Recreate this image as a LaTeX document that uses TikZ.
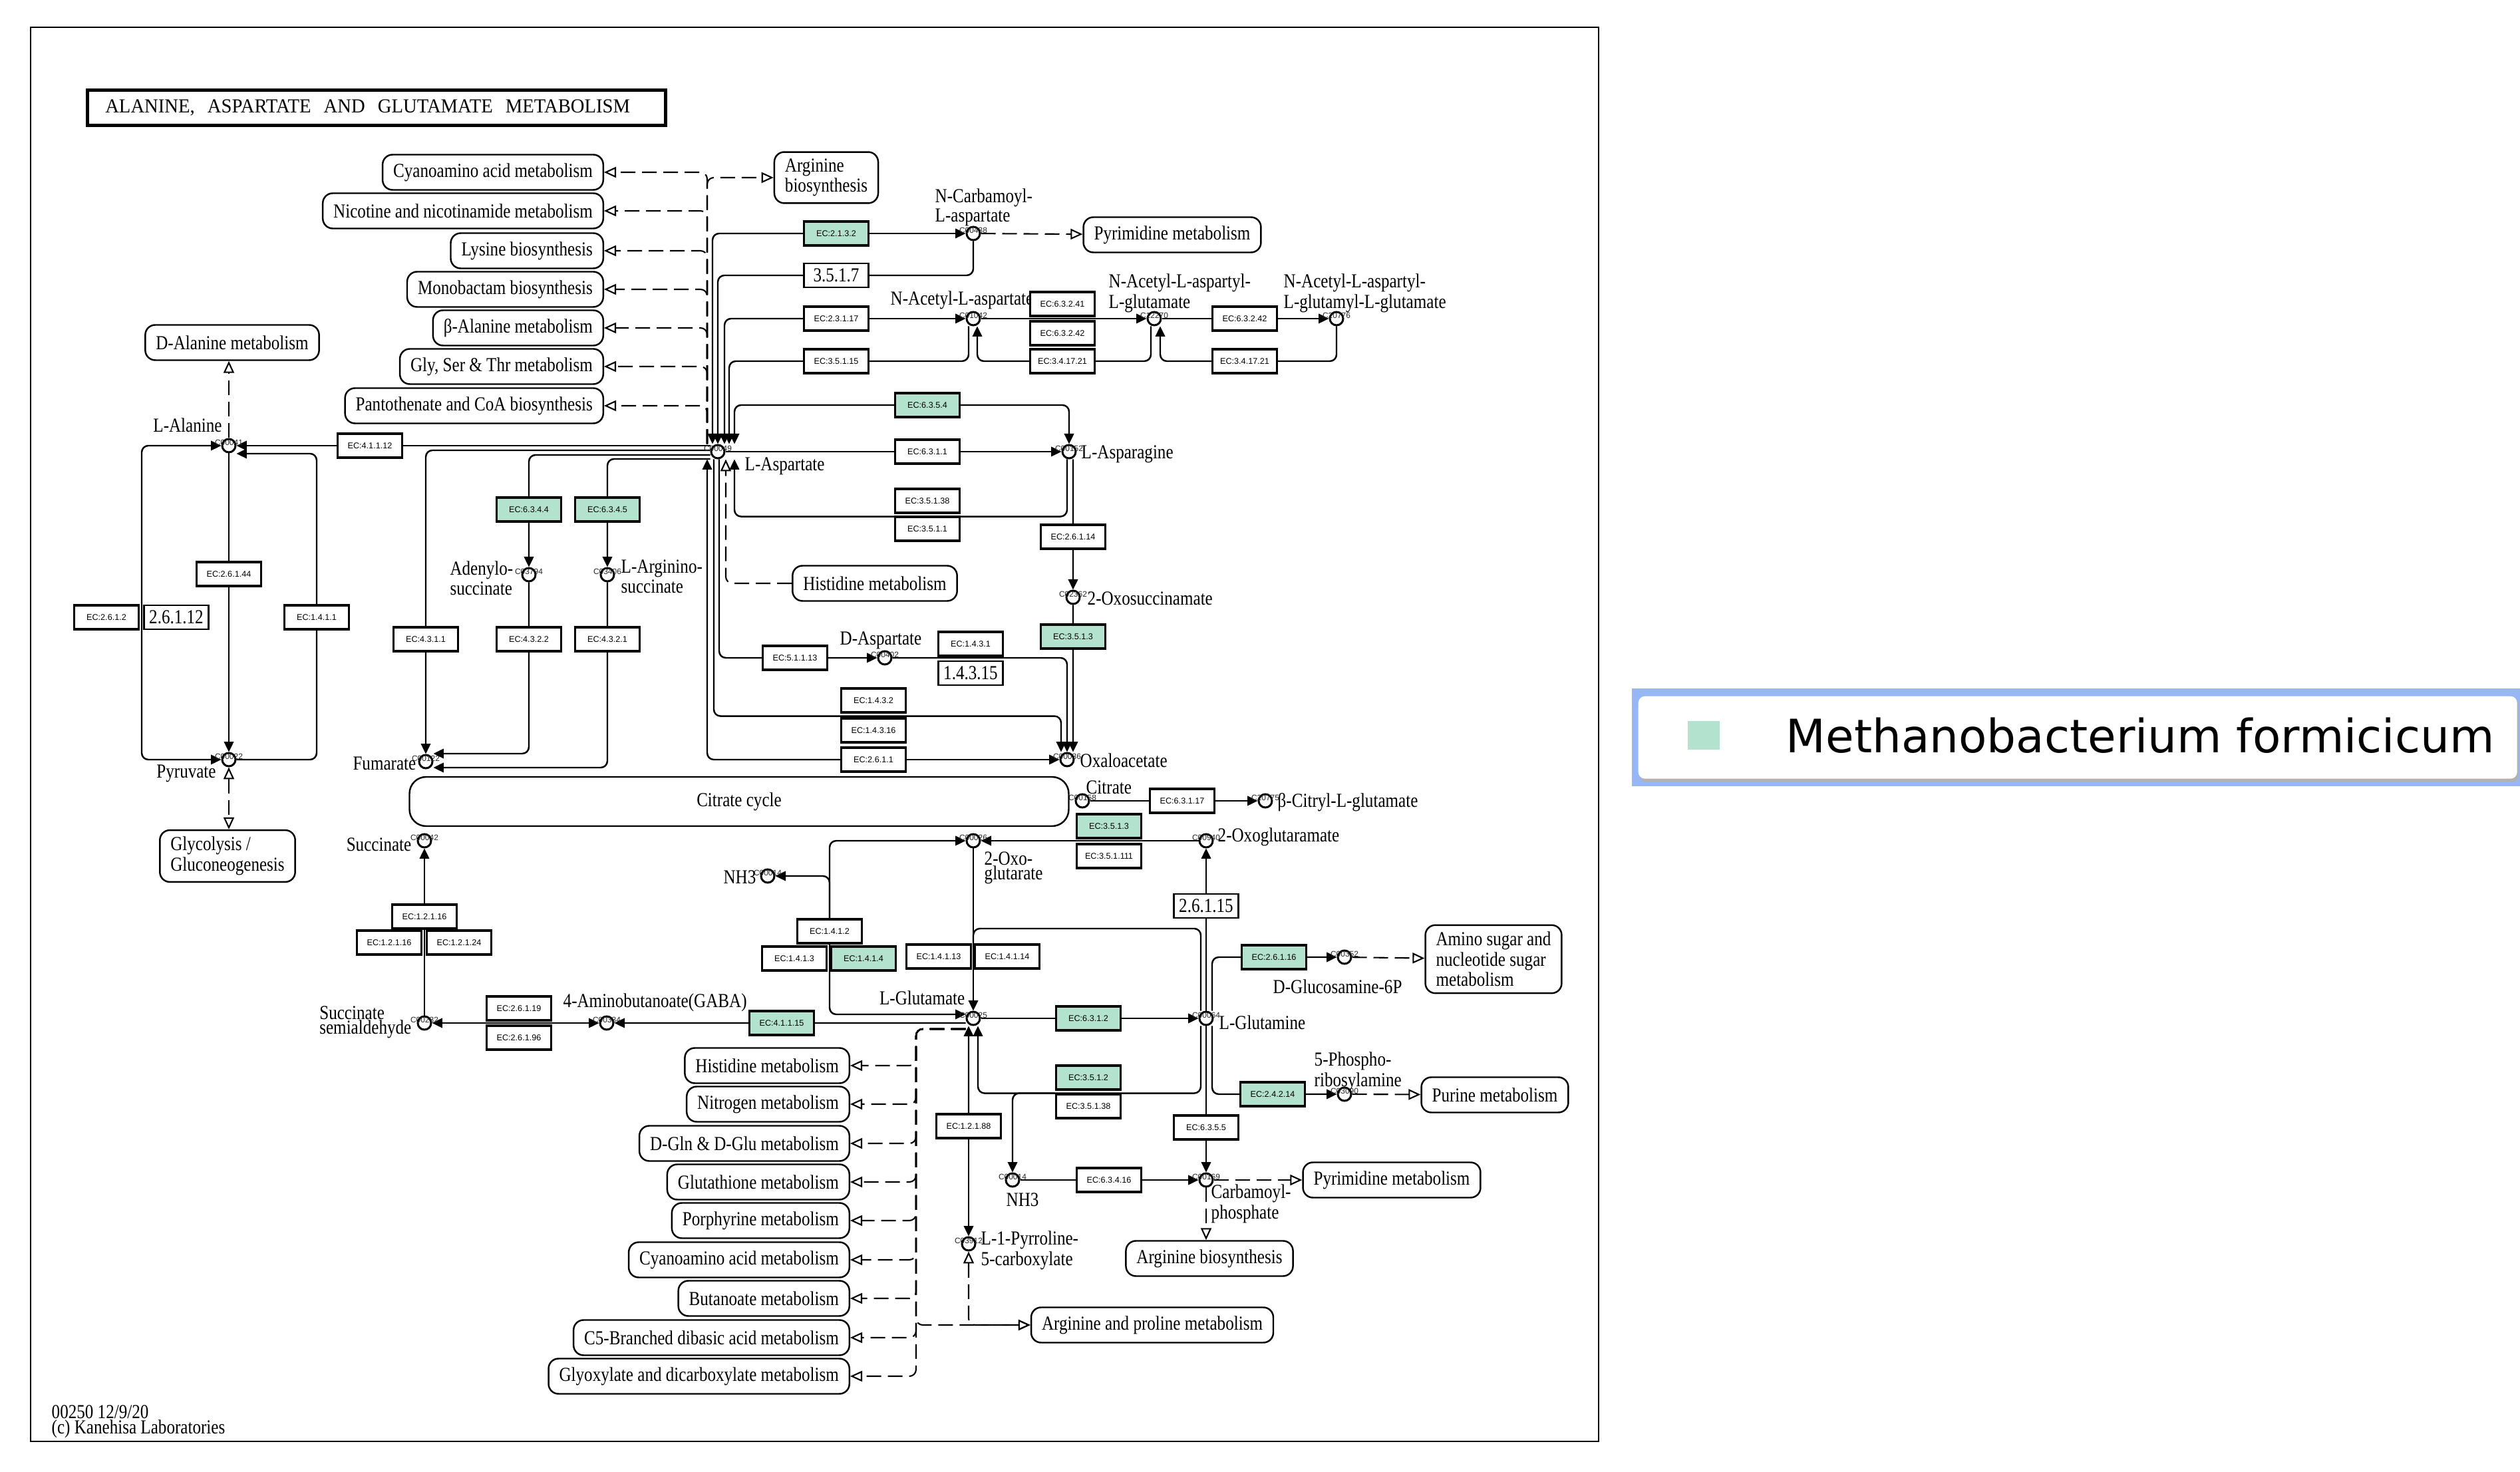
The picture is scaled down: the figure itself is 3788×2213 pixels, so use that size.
\documentclass[tikz,border=0pt]{standalone}
\usepackage{fontspec}
\setmainfont{Liberation Serif}
\newfontfamily\keggfont{Liberation Serif}[FakeStretch=0.84]
\newfontfamily\titlefont{Liberation Serif}[FakeStretch=0.96]
\newfontfamily\ecfont{Liberation Sans}
\newfontfamily\legendfont{DejaVu Sans}
\usetikzlibrary{arrows.meta}
\definecolor{mfgreen}{RGB}{179,227,206}
\definecolor{legblue}{RGB}{150,182,245}
\newcommand\kegg{\keggfont\fontsize{8.5}{6.4}\selectfont}
\newcommand\ecsize{\ecfont\fontsize{3.6}{4}\selectfont}
\pgfdeclarelayer{bg}
\pgfsetlayers{bg,main}
\begin{document}
\begin{tikzpicture}
[x=0.1mm,y=-0.1mm,
 ec/.style={draw,line width=0.9pt,fill=white,minimum width=9.7mm,minimum height=3.6mm,inner sep=0pt,font=\ecsize},
 ecg/.style={ec,fill=mfgreen},
 ecn/.style={draw,line width=0.6pt,fill=white,minimum width=9.7mm,minimum height=3.6mm,inner sep=0pt,font=\kegg},
 cid/.style={font=\ecfont\fontsize{3.4}{4}\selectfont,inner sep=0pt,text=black!85},
 cpd/.style={circle,draw,line width=0.85pt,fill=white,minimum size=2mm,inner sep=0pt,label={[cid,yshift=0.5mm]center:#1}},
 lbl/.style={font=\kegg,inner sep=0pt,align=left},
 mapbox/.style={draw,line width=0.7pt,rounded corners=1.5mm,fill=white,minimum height=5.3mm,inner xsep=1.6mm,inner ysep=0.5mm,font=\kegg,align=left},
 rx/.style={line width=0.7pt,rounded corners=1mm},
 fwd/.style={-{Triangle[length=1.55mm,width=1.45mm]}},
 bwd/.style={{Triangle[length=1.55mm,width=1.45mm]}-},
 bid/.style={{Triangle[length=1.55mm,width=1.45mm]}-{Triangle[length=1.55mm,width=1.45mm]}},
 maplink/.style={line width=0.6pt,dash pattern=on 2.2mm off 1mm,rounded corners=1mm,-{Triangle[open,length=1.8mm,width=1.6mm]}},
 maplink2/.style={maplink,{Triangle[open,length=1.8mm,width=1.6mm]}-{Triangle[open,length=1.8mm,width=1.6mm]}}]
\begin{pgfonlayer}{bg}
\fill[white] (0,0) rectangle (3788,2213);
\end{pgfonlayer}
\useasboundingbox (0,0) rectangle (3788,2213);
\draw[line width=0.6pt] (46,41) rectangle (2403,2167);
\node[draw,line width=1.3pt,anchor=west,text width=81.5mm,inner xsep=2.7mm,minimum height=5.3mm,align=left,font=\titlefont\fontsize{8.5}{10}\selectfont] (title) at (129,162) {ALANINE,\hspace{1.9mm}ASPARTATE\hspace{1.9mm}AND\hspace{1.9mm}GLUTAMATE\hspace{1.9mm}METABOLISM};

\node[cpd=C00041] (ala) at (344,670) {};
\node[cpd=C00022] (pyr) at (344,1142) {};
\node[cpd=C00049] (asp) at (1079,679) {};
\node[cpd=C00438] (ncasp) at (1463,351) {};
\node[cpd=C01042] (naa) at (1463,479) {};
\node[cpd=C12270] (naag) at (1735,479) {};
\node[cpd=C20776] (naag2) at (2009,479) {};
\node[cpd=C00152] (asn) at (1607,679) {};
\node[cpd=C03794] (adsucc) at (795,864) {};
\node[cpd=C03406] (argsucc) at (913,864) {};
\node[cpd=C00122] (fum) at (640,1145) {};
\node[cpd=C00042] (succ) at (638,1264) {};
\node[cpd=C00232] (ssa) at (638,1538) {};
\node[cpd=C00334] (gaba) at (912,1538) {};
\node[cpd=C00402] (dasp) at (1330,989) {};
\node[cpd=C02362] (oxsucc) at (1613,898) {};
\node[cpd=C00036] (oaa) at (1604,1142) {};
\node[cpd=C00158] (cit) at (1627,1204) {};
\node[cpd=C20775] (citglu) at (1902,1204) {};
\node[cpd=C00940] (oxglm) at (1813,1264) {};
\node[cpd=C00026] (akg) at (1463,1264) {};
\node[cpd=C00014] (nh3a) at (1154,1317) {};
\node[cpd=C00025] (glu) at (1463,1531) {};
\node[cpd=C00064] (gln) at (1813,1531) {};
\node[cpd=C00352] (glcn6p) at (2021,1439) {};
\node[cpd=C03090] (pra) at (2021,1645) {};
\node[cpd=C00014] (nh3b) at (1522,1774) {};
\node[cpd=C00169] (cbp) at (1813,1774) {};
\node[cpd=C03912] (p5c) at (1456,1870) {};

\node[lbl] (alal) at (282,639) {L-Alanine};
\node[lbl] (pyrl) at (280,1163) {Pyruvate};
\node[lbl,anchor=west] (aspl) at (1119,701) {L-Aspartate};
\node[lbl,anchor=west] (ncaspl) at (1405,312) {N-Carbamoyl-\\L-aspartate};
\node[lbl,anchor=west] (naal) at (1338,451) {N-Acetyl-L-aspartate};
\node[lbl,anchor=west] (naagl) at (1666,441) {N-Acetyl-L-aspartyl-\\L-glutamate};
\node[lbl,anchor=west] (naag2l) at (1929,441) {N-Acetyl-L-aspartyl-\\L-glutamyl-L-glutamate};
\node[lbl,anchor=west] (asnl) at (1625,683) {L-Asparagine};
\node[lbl,anchor=east] (adsuccl) at (772,869) {Adenylo-\\succinate};
\node[lbl,anchor=west] (argsuccl) at (933,867) {L-Arginino-\\succinate};
\node[lbl,anchor=east] (fuml) at (626,1148) {Fumarate};
\node[lbl,anchor=east] (succl) at (619,1270) {Succinate};
\node[lbl,anchor=east] (ssal) at (619,1537) {Succinate\\semialdehyde};
\node[lbl,anchor=west] (gabal) at (846,1507) {4-Aminobutanoate(GABA)};
\node[lbl,anchor=west] (daspl) at (1262,963) {D-Aspartate};
\node[lbl,anchor=west] (oxsuccl) at (1634,900) {2-Oxosuccinamate};
\node[lbl,anchor=west] (oaal) at (1623,1143) {Oxaloacetate};
\node[lbl,anchor=west] (citl) at (1632,1184) {Citrate};
\node[lbl,anchor=west] (citglul) at (1920,1206) {β-Citryl-L-glutamate};
\node[lbl,anchor=west] (oxglml) at (1830,1258) {2-Oxoglutaramate};
\node[lbl,anchor=west] (akgl) at (1479,1305) {2-Oxo-\\glutarate};
\node[lbl,anchor=east] (nh3al) at (1137,1319) {NH3};
\node[lbl,anchor=east] (glul) at (1451,1500) {L-Glutamate};
\node[lbl,anchor=west] (glnl) at (1832,1537) {L-Glutamine};
\node[lbl,anchor=west] (glcn6pl) at (1913,1483) {D-Glucosamine-6P};
\node[lbl,anchor=west] (pral) at (1975,1611) {5-Phospho-\\ribosylamine};
\node[lbl,anchor=west] (nh3bl) at (1512,1804) {NH3};
\node[lbl,anchor=west] (cbpl) at (1820,1810) {Carbamoyl-\\phosphate};
\node[lbl,anchor=west] (p5cl) at (1474,1880) {L-1-Pyrroline-\\5-carboxylate};
\node[lbl,anchor=west] (credit) at (77,2137) {00250 12/9/20\\(c) Kanehisa Laboratories};

\node[mapbox,anchor=east] (cyano1) at (908,259) {Cyanoamino acid metabolism};
\node[mapbox,anchor=east] (nicot) at (908,317) {Nicotine and nicotinamide metabolism};
\node[mapbox,anchor=east] (lysbio) at (908,377) {Lysine biosynthesis};
\node[mapbox,anchor=east] (monob) at (908,435) {Monobactam biosynthesis};
\node[mapbox,anchor=east] (balan) at (908,493) {β-Alanine metabolism};
\node[mapbox,anchor=east] (glyser) at (908,551) {Gly, Ser \& Thr metabolism};
\node[mapbox,anchor=east] (panto) at (908,610) {Pantothenate and CoA biosynthesis};
\node[mapbox,inner ysep=1mm] (argbio1) at (1242,267) {Arginine\\biosynthesis};
\node[mapbox] (pyrim1) at (1762,353) {Pyrimidine metabolism};
\node[mapbox] (dala) at (349,515) {D-Alanine metabolism};
\node[mapbox,inner ysep=1mm] (glyco) at (342,1287) {Glycolysis /\\Gluconeogenesis};
\node[mapbox] (histid1) at (1315,877) {Histidine metabolism};
\node[mapbox,rounded corners=2.5mm,minimum width=99.1mm,minimum height=7.4mm] (citcyc) at (1111,1205) {Citrate cycle};
\node[mapbox,inner ysep=1mm] (aminosugar) at (2245,1442) {Amino sugar and\\nucleotide sugar\\metabolism};
\node[mapbox] (purine) at (2247,1646) {Purine metabolism};
\node[mapbox] (pyrim2) at (2092,1774) {Pyrimidine metabolism};
\node[mapbox] (argbio2) at (1818,1892) {Arginine biosynthesis};
\node[mapbox] (argpro) at (1732,1992) {Arginine and proline metabolism};
\node[mapbox,anchor=east] (histid2) at (1278,1602) {Histidine metabolism};
\node[mapbox,anchor=east] (nitro) at (1278,1660) {Nitrogen metabolism};
\node[mapbox,anchor=east] (dgln) at (1278,1719) {D-Gln \& D-Glu metabolism};
\node[mapbox,anchor=east] (gluta) at (1278,1777) {Glutathione metabolism};
\node[mapbox,anchor=east] (porph) at (1278,1835) {Porphyrine metabolism};
\node[mapbox,anchor=east] (cyano2) at (1278,1894) {Cyanoamino acid metabolism};
\node[mapbox,anchor=east] (butan) at (1278,1952) {Butanoate metabolism};
\node[mapbox,anchor=east] (c5br) at (1278,2011) {C5-Branched dibasic acid metabolism};
\node[mapbox,anchor=east] (glyox) at (1278,2069) {Glyoxylate and dicarboxylate metabolism};

\node[ec] (ec41112) at (556,670) {EC:4.1.1.12};
\node[ec] (ec26144) at (344,863) {EC:2.6.1.44};
\node[ec] (ec2612) at (160,928) {EC:2.6.1.2};
\node[ecn] (n26112) at (265,928) {2.6.1.12};
\node[ec] (ec1411) at (476,928) {EC:1.4.1.1};
\node[ecg] (ec6344) at (795,766) {EC:6.3.4.4};
\node[ecg] (ec6345) at (913,766) {EC:6.3.4.5};
\node[ec] (ec4311) at (640,961) {EC:4.3.1.1};
\node[ec] (ec4322) at (795,961) {EC:4.3.2.2};
\node[ec] (ec4321) at (913,961) {EC:4.3.2.1};
\node[ec] (ec12116a) at (638,1378) {EC:1.2.1.16};
\node[ec] (ec12116b) at (585,1417) {EC:1.2.1.16};
\node[ec] (ec12124) at (690,1417) {EC:1.2.1.24};
\node[ec] (ec26119) at (780,1516) {EC:2.6.1.19};
\node[ec] (ec26196) at (780,1560) {EC:2.6.1.96};
\node[ecg] (ec41115) at (1175,1538) {EC:4.1.1.15};
\node[ecg] (ec2132) at (1257,351) {EC:2.1.3.2};
\node[ecn] (n3517) at (1257,414) {3.5.1.7};
\node[ec] (ec23117) at (1257,479) {EC:2.3.1.17};
\node[ec] (ec35115) at (1257,543) {EC:3.5.1.15};
\node[ec] (ec63241) at (1597,457) {EC:6.3.2.41};
\node[ec] (ec63242a) at (1597,501) {EC:6.3.2.42};
\node[ec] (ec341721a) at (1597,543) {EC:3.4.17.21};
\node[ec] (ec63242b) at (1871,479) {EC:6.3.2.42};
\node[ec] (ec341721b) at (1871,543) {EC:3.4.17.21};
\node[ecg] (ec6354) at (1394,609) {EC:6.3.5.4};
\node[ec] (ec6311) at (1394,679) {EC:6.3.1.1};
\node[ec] (ec35138a) at (1394,753) {EC:3.5.1.38};
\node[ec] (ec3511) at (1394,795) {EC:3.5.1.1};
\node[ec] (ec26114) at (1613,807) {EC:2.6.1.14};
\node[ecg] (ec3513a) at (1613,957) {EC:3.5.1.3};
\node[ec] (ec51113) at (1195,989) {EC:5.1.1.13};
\node[ec] (ec1431) at (1459,968) {EC:1.4.3.1};
\node[ecn] (n14315) at (1459,1012) {1.4.3.15};
\node[ec] (ec1432) at (1313,1053) {EC:1.4.3.2};
\node[ec] (ec14316) at (1313,1098) {EC:1.4.3.16};
\node[ec] (ec2611) at (1313,1142) {EC:2.6.1.1};
\node[ec] (ec63117) at (1777,1204) {EC:6.3.1.17};
\node[ecg] (ec3513b) at (1667,1242) {EC:3.5.1.3};
\node[ec] (ec351111) at (1667,1287) {EC:3.5.1.111};
\node[ecn] (n26115) at (1813,1362) {2.6.1.15};
\node[ec] (ec1412) at (1247,1400) {EC:1.4.1.2};
\node[ec] (ec1413) at (1194,1441) {EC:1.4.1.3};
\node[ecg] (ec1414) at (1298,1441) {EC:1.4.1.4};
\node[ec] (ec14113) at (1411,1438) {EC:1.4.1.13};
\node[ec] (ec14114) at (1514,1438) {EC:1.4.1.14};
\node[ecg] (ec26116) at (1915,1439) {EC:2.6.1.16};
\node[ecg] (ec6312) at (1636,1531) {EC:6.3.1.2};
\node[ecg] (ec3512) at (1636,1620) {EC:3.5.1.2};
\node[ec] (ec35138b) at (1636,1663) {EC:3.5.1.38};
\node[ecg] (ec24214) at (1913,1645) {EC:2.4.2.14};
\node[ec] (ec6355) at (1813,1695) {EC:6.3.5.5};
\node[ec] (ec63416) at (1667,1774) {EC:6.3.4.16};
\node[ec] (ec12188) at (1456,1693) {EC:1.2.1.88};

\node[fill=legblue,minimum width=133.6mm,minimum height=14.7mm,anchor=north west,inner sep=0pt] (legend) at (2452,1034) {};
\fill[black!30,rounded corners=1mm] (2465,1051) rectangle (3786,1176);
\node[fill=white,rounded corners=1mm,minimum width=132.1mm,minimum height=12.4mm,anchor=north west,inner sep=0pt] (legbox) at (2462,1046) {};
\node[fill=mfgreen,minimum width=4.8mm,minimum height=4.3mm,inner sep=0pt] (legsq) at (2561,1106) {};
\node[anchor=west,inner sep=0pt,font=\legendfont\fontsize{19.7}{24}\selectfont] (legtext) at (2684,1106) {Methanobacterium formicicum};

\begin{pgfonlayer}{bg}
\draw[rx,fwd] (asp.west |- ala) -- (ec41112) -- (ala);
\draw[rx,bid] (ala) -| (213,906) |- (pyr);
\draw[rx,fwd] (ala) -- (ec26144) -- (pyr);
\draw[rx,fwd] (pyr) -| (ec1411) |- ([yshift=-1.2mm]ala.east);
\draw[maplink] (ala) -- (ala |- dala.south);
\draw[maplink2] (pyr) -- (pyr |- glyco.north);
\draw[rx,fwd] ([yshift=0.2mm]asp.west) -| (ec4311) -- (fum);
\draw[rx,fwd] ([yshift=-0.5mm]asp.west) -| (ec6344) -- (adsucc);
\draw[rx,fwd] ([yshift=-1.1mm]asp.west) -| (ec6345) -- (argsucc);
\draw[rx,fwd] (adsucc) -- (ec4322) |- ([yshift=1.2mm]fum.east);
\draw[rx,fwd] (argsucc) -- (ec4321) |- ([yshift=-0.9mm]fum.east);
\draw[rx,fwd] (ssa) -- (ec12116a) -- (succ);
\draw[rx,bid] (gaba) -- (ssa);
\draw[rx,fwd] ([yshift=-0.7mm]glu.west) -- (ec41115) -- (gaba);

\draw[maplink] ([xshift=-1.6mm]asp.north) |- (argbio1);
\draw[maplink] ([xshift=-1.6mm]asp.north) |- (cyano1);
\draw[maplink] ([xshift=-1.6mm]asp.north) |- (nicot);
\draw[maplink] ([xshift=-1.6mm]asp.north) |- (lysbio);
\draw[maplink] ([xshift=-1.6mm]asp.north) |- (monob);
\draw[maplink] ([xshift=-1.6mm]asp.north) |- (balan);
\draw[maplink] ([xshift=-1.6mm]asp.north) |- (glyser);
\draw[maplink] ([xshift=-1.6mm]asp.north) |- (panto);
\draw[maplink] (histid1) -| ([xshift=1.2mm]asp.south);

\draw[rx,bwd] ([xshift=-0.8mm]asp.north) |- (ec2132);
\draw[rx,fwd] (ec2132) -- (ncasp);
\draw[rx,fwd] (ncasp) |- (n3517) -| (asp.north);
\draw[rx,bwd] ([xshift=1mm]asp.north) |- (ec23117);
\draw[rx,fwd] (ec23117) -- (naa);
\draw[rx,fwd] ([xshift=-0.7mm]naa.south) |- (ec35115) -| ([xshift=1.7mm]asp.north);
\draw[rx,bwd] ([xshift=2.5mm]asp.north) |- (ec6354);
\draw[rx,fwd] (ec6354) -| (asn);
\draw[rx,fwd] (asp) -- (ec6311) -- (asn);
\draw[rx,fwd] ([xshift=-0.3mm]asn.south) |- ([yshift=-0.4mm]ec35138a.south) -| ([xshift=2.5mm]asp.south);
\draw[maplink] (ncasp) -- (pyrim1);
\draw[rx,fwd] (naa) -- (naag);
\draw[rx,fwd] ([xshift=-0.5mm]naag.south) |- (ec341721a) -| ([xshift=0.6mm]naa.south);
\draw[rx,fwd] (naag) -- (ec63242b) -- (naag2);
\draw[rx,fwd] (naag2) |- (ec341721b) -| ([xshift=0.9mm]naag.south);

\draw[rx,bwd] ([xshift=-1.6mm]asp.south) |- (ec2611);
\draw[rx,fwd] (ec2611) -- (oaa);
\draw[rx,fwd] ([xshift=-0.6mm]asp.south) |- ([yshift=-0.4mm]ec1432.south) -| ([xshift=-0.9mm]oaa.north);
\draw[rx,fwd] ([xshift=0.2mm]asp.south) |- (ec51113) -- (dasp);
\draw[rx,fwd] (dasp) -| (oaa);
\draw[rx,fwd] ([xshift=0.6mm]asn.south) -- (ec26114) -- (oxsucc);
\draw[rx,fwd] (oxsucc) -- (ec3513a) -- ([xshift=0.9mm]oaa.north);

\draw[rx,fwd] (cit) -- (ec63117) -- (citglu);
\draw[rx,fwd] (oxglm) -- (akg);
\draw[rx,fwd] (gln) -- (n26115) -- (oxglm);
\draw[rx,bwd] ([yshift=0.6mm]glu.west) -| (ec1412);
\draw[rx,fwd] (ec1412) |- (akg);
\draw[rx,fwd] (ec1412.north) |- (nh3a);
\draw[rx,fwd] (akg) -- (glu);
\draw[rx] ([xshift=-0.8mm]gln.north) |- (1463,1396) -- (1463,1425);
\draw[rx,fwd] (glu) -- (ec6312) -- (gln);
\draw[rx,fwd] ([xshift=-0.8mm]gln.south) |- ([yshift=-0.4mm]ec3512.south) -| ([xshift=0.7mm]glu.south);
\draw[rx,fwd] ([yshift=-0.4mm]ec3512.south west) -| (nh3b);
\draw[rx,bwd] ([xshift=-0.7mm]glu.south) -- (ec12188);
\draw[rx,fwd] (ec12188) -- (p5c);
\draw[maplink2] (p5c) |- (argpro);
\draw[rx,fwd] (gln) -- (ec6355) -- (cbp);
\draw[rx,fwd] (nh3b) -- (ec63416) -- (cbp);
\draw[maplink] (cbp) -- (pyrim2);
\draw[maplink] (cbp) -- (cbp |- argbio2.north);
\draw[rx,fwd] ([xshift=0.9mm]gln.north) |- (ec26116) -- (glcn6p);
\draw[maplink] (glcn6p) -- (aminosugar);
\draw[rx,fwd] ([xshift=0.9mm]gln.south) |- (ec24214) -- (pra);
\draw[maplink] (pra) -- (purine);

\coordinate (gluw) at ([yshift=-1.6mm]glu.west);
\draw[maplink] (gluw) -| (1377,1602) -- (histid2);
\draw[maplink] (gluw) -| (1377,1660) -- (nitro);
\draw[maplink] (gluw) -| (1377,1719) -- (dgln);
\draw[maplink] (gluw) -| (1377,1777) -- (gluta);
\draw[maplink] (gluw) -| (1377,1835) -- (porph);
\draw[maplink] (gluw) -| (1377,1894) -- (cyano2);
\draw[maplink] (gluw) -| (1377,1952) -- (butan);
\draw[maplink] (gluw) -| (1377,2011) -- (c5br);
\draw[maplink] (gluw) -| (1377,2069) -- (glyox);
\draw[maplink] (gluw) -| (1377,1992) -- (argpro);
\end{pgfonlayer}
\end{tikzpicture}
\end{document}
